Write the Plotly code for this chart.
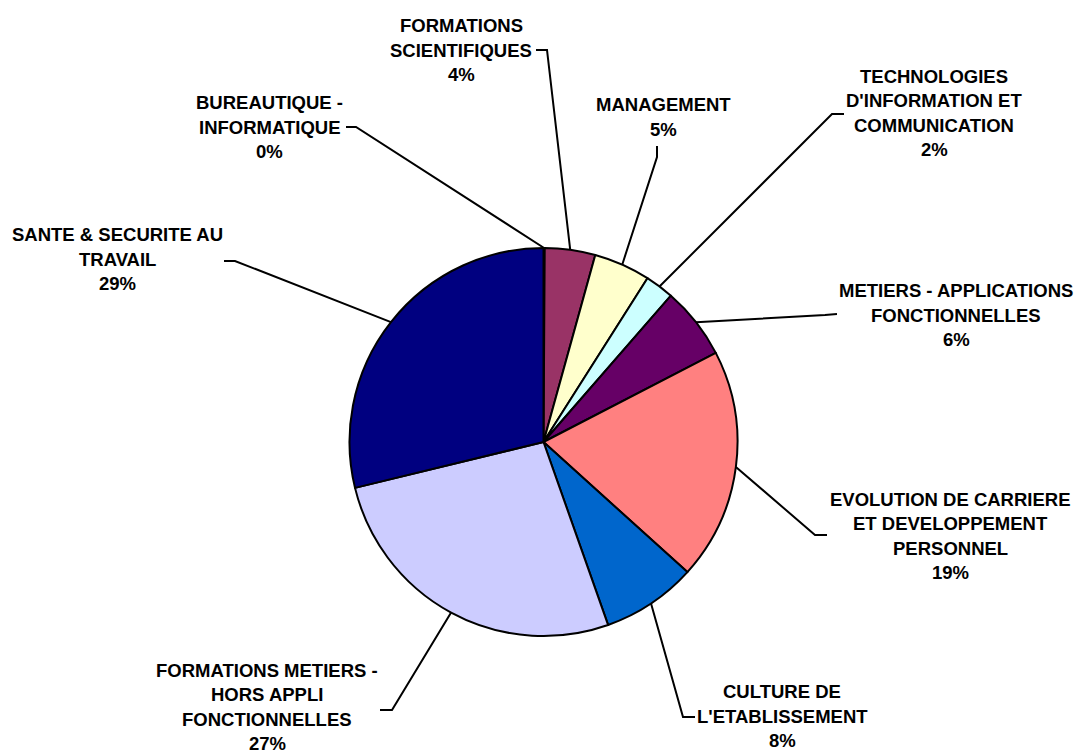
import math
import plotly.graph_objects as go

# data, in chart order (clockwise from 12 o'clock)
categories = [
    "BUREAUTIQUE -\nINFORMATIQUE",
    "FORMATIONS\nSCIENTIFIQUES",
    "MANAGEMENT",
    "TECHNOLOGIES\nD'INFORMATION ET\nCOMMUNICATION",
    "METIERS - APPLICATIONS\nFONCTIONNELLES",
    "EVOLUTION DE CARRIERE\nET DEVELOPPEMENT\nPERSONNEL",
    "CULTURE DE\nL'ETABLISSEMENT",
    "FORMATIONS METIERS -\nHORS APPLI\nFONCTIONNELLES",
    "SANTE & SECURITE AU\nTRAVAIL",
]
shares = [0.1, 4.2, 4.7, 2.4, 6.0, 19.3, 7.9, 26.6, 28.8]
colors = ["#9999FF", "#993366", "#FFFFCC", "#CCFFFF", "#660066",
          "#FF8080", "#0066CC", "#CCCCFF", "#000080"]

# layout of the outside labels (pixels): text centre x, text centre y,
# then the two leader points nearest the text
label_layout = [
    (269, 127, (346, 127), (356, 127)),
    (461, 50, (536, 50), (547, 50)),
    (663, 117, (657, 146), (657, 157)),
    (934, 113, (844, 114), (832, 114)),
    (956, 315, (837, 314), (825, 315)),
    (950, 536, (827, 535), (815, 535)),
    (782, 716, (695, 717), (683, 717)),
    (267, 707, (380, 710), (392, 710)),
    (117, 259, (224, 261), (235, 261)),
]

W, H = 1077, 753
CX, CY, R = 543.5, 442, 194
LINE_H = 24.5
FONT = dict(family="Liberation Sans, Arial, sans-serif", size=18.5, color="black")

fig = go.Figure()

fig.add_trace(go.Pie(
    labels=[c.replace("\n", " ") for c in categories],
    values=shares,
    sort=False,
    direction="clockwise",
    rotation=0,
    textinfo="none",
    hoverinfo="label+percent",
    marker=dict(colors=colors, line=dict(color="black", width=2)),
    domain=dict(x=[(CX - R) / W, (CX + R) / W], y=[(H - CY - R) / H, (H - CY + R) / H]),
    showlegend=False,
))

total = sum(shares)
cum = 0.0
for cat, val, (tx, ty, p1, p2) in zip(categories, shares, label_layout):
    mid = (cum + val / 2) / total * 2 * math.pi
    cum += val
    ex, ey = CX + R * math.sin(mid), CY - R * math.cos(mid)
    fig.add_trace(go.Scatter(
        x=[p1[0], p2[0], ex], y=[p1[1], p2[1], ey],
        mode="lines", line=dict(color="black", width=2),
        hoverinfo="skip", showlegend=False,
    ))
    lines = cat.split("\n") + [f"{round(val / total * 100)}%"]
    y0 = ty - (len(lines) - 1) * LINE_H / 2
    for i, txt in enumerate(lines):
        fig.add_annotation(
            x=tx, y=y0 + i * LINE_H, xref="x", yref="y",
            text=f"<b>{txt}</b>", showarrow=False, font=FONT,
            xanchor="center", yanchor="middle",
        )

fig.update_xaxes(range=[0, W], visible=False, fixedrange=True)
fig.update_yaxes(range=[H, 0], visible=False, fixedrange=True)
fig.update_layout(
    width=W, height=H,
    margin=dict(l=0, r=0, t=0, b=0),
    paper_bgcolor="white",
    plot_bgcolor="rgba(0,0,0,0)",
)

fig.write_html(
    "out.html",
    config={"displayModeBar": False},
    post_script="document.body.style.margin='0';",
)
